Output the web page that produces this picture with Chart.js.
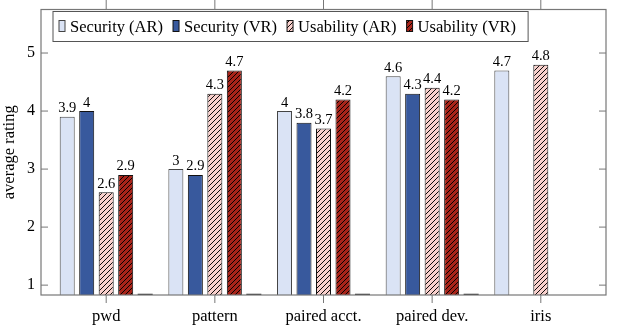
<!DOCTYPE html>
<html>
<head>
<meta charset="utf-8">
<script src="https://cdn.jsdelivr.net/npm/chart.js@4.4.0/dist/chart.umd.min.js"></script>
<style>
  html, body { margin: 0; padding: 0; background: #fff; }
  canvas { display: block; }
</style>
</head>
<body>
<canvas id="c" width="618" height="334"></canvas>
<script>
// ratings per method
var categories = ['pwd', 'pattern', 'paired acct.', 'paired dev.', 'iris'];
var securityAR = [3.9, 3, 4, 4.6, 4.7];
var securityVR = [4, 2.9, 3.8, 4.3, null];
var usabilityAR = [2.6, 4.3, 3.7, 4.4, 4.8];
var usabilityVR = [2.9, 4.7, 4.2, 4.2, null];
var spacer = [0.85, 0.85, 0.85, 0.85, null];
var yTicks = [1, 2, 3, 4, 5];

var serif = '"Liberation Serif", "Times New Roman", "DejaVu Serif", serif';

// diagonal hatch (north east lines) over a base colour
function hatch(bg) {
  var s = 5;
  var c = document.createElement('canvas');
  c.width = s; c.height = s;
  var g = c.getContext('2d');
  g.fillStyle = bg;
  g.fillRect(0, 0, s, s);
  g.strokeStyle = '#000';
  g.lineWidth = 0.95;
  g.beginPath();
  g.moveTo(-1, s + 1); g.lineTo(s + 1, -1);
  g.moveTo(-1, 1); g.lineTo(1, -1);
  g.moveTo(s - 1, s + 1); g.lineTo(s + 1, s - 1);
  g.stroke();
  return g.createPattern(c, 'repeat');
}

function toXY(arr) {
  return arr.map(function(v, i) { return { x: i, y: v }; });
}

function barSet(label, values, fill, border) {
  return {
    label: label,
    data: toXY(values),
    backgroundColor: fill,
    borderColor: border,
    borderWidth: 1,
    categoryPercentage: 0.897,
    barPercentage: 0.77
  };
}

// frame, ticks, value labels and the legend box
var decor = {
  id: 'decor',
  afterDatasetsDraw: function(chart) {
    var ctx = chart.ctx, a = chart.chartArea;
    var xs = chart.scales.x, ys = chart.scales.y;
    ctx.save();

    // values above bars
    ctx.fillStyle = '#000';
    ctx.font = '14.5px ' + serif;
    ctx.textAlign = 'center';
    ctx.textBaseline = 'alphabetic';
    chart.data.datasets.forEach(function(ds, di) {
      if (ds.noValue) return;
      chart.getDatasetMeta(di).data.forEach(function(bar, i) {
        var v = ds.data[i].y;
        if (v == null) return;
        ctx.fillText(String(v), bar.x, bar.y - 4.5);
      });
    });

    // axis frame
    ctx.strokeStyle = '#777';
    ctx.lineWidth = 1.2;
    ctx.strokeRect(a.left, a.top, a.right - a.left, a.bottom - a.top);

    // y ticks inside on both sides
    ctx.beginPath();
    yTicks.forEach(function(v) {
      var y = ys.getPixelForValue(v);
      ctx.moveTo(a.left, y); ctx.lineTo(a.left + 7, y);
      ctx.moveTo(a.right - 7, y); ctx.lineTo(a.right, y);
    });
    // x ticks outside, top and bottom
    categories.forEach(function(c, i) {
      var x = xs.getPixelForValue(i);
      ctx.moveTo(x, a.bottom); ctx.lineTo(x, a.bottom + 8);
      ctx.moveTo(x, a.top - 10); ctx.lineTo(x, a.top);
    });
    ctx.lineWidth = 1;
    ctx.stroke();

    // legend
    ctx.font = '16.5px ' + serif;
    ctx.textAlign = 'left';
    var items = chart.data.datasets.filter(function(ds) { return !ds.noValue; });
    var x = 59, pos = [];
    items.forEach(function(ds) {
      var w = ctx.measureText(ds.label).width;
      pos.push(x);
      x += 11 + w + 10;
    });
    var boxL = 53, boxT = 11.5, boxB = 41.5, boxR = x - 10 + 12;
    ctx.fillStyle = '#fff';
    ctx.fillRect(boxL, boxT, boxR - boxL, boxB - boxT);
    ctx.strokeStyle = '#555';
    ctx.lineWidth = 1;
    ctx.strokeRect(boxL, boxT, boxR - boxL, boxB - boxT);
    items.forEach(function(ds, k) {
      var sx = pos[k];
      ctx.fillStyle = ds.backgroundColor;
      ctx.fillRect(sx, 20.5, 6, 11);
      ctx.strokeStyle = ds.borderColor;
      ctx.strokeRect(sx, 20.5, 6, 11);
      ctx.fillStyle = '#000';
      ctx.fillText(ds.label, sx + 11, 32);
    });

    ctx.restore();
  }
};

function draw() {
  var datasets = [
    barSet('Security (AR)', securityAR, '#dae3f5', '#444'),
    barSet('Security (VR)', securityVR, '#38599d', '#111'),
    barSet('Usability (AR)', usabilityAR, hatch('#f9d0cc'), '#111'),
    barSet('Usability (VR)', usabilityVR, hatch('#a8241a'), '#111'),
    {
      label: '',
      data: toXY(spacer),
      backgroundColor: '#333',
      borderWidth: 0,
      categoryPercentage: 0.897,
      barPercentage: 0.77,
      noValue: true
    }
  ];

  new Chart(document.getElementById('c'), {
    type: 'bar',
    data: { datasets: datasets },
    options: {
      responsive: false,
      animation: false,
      layout: { padding: { top: 9.5, right: 12, left: 0, bottom: 0 } },
      plugins: { legend: { display: false }, tooltip: { enabled: false } },
      scales: {
        x: {
          type: 'linear',
          min: -0.6,
          max: 4.6,
          offset: false,
          grid: { display: false, drawTicks: false },
          border: { display: false },
          afterBuildTicks: function(s) { s.ticks = categories.map(function(c, i) { return { value: i }; }); },
          afterFit: function(s) { s.height = 39; s.paddingLeft = 0; s.paddingRight = 0; },
          ticks: {
            padding: 12,
            color: '#000',
            autoSkip: false,
            maxRotation: 0,
            font: { family: serif, size: 16.5 },
            callback: function(v) { return categories[v]; }
          }
        },
        y: {
          min: 0.83,
          max: 5.75,
          grid: { display: false, drawTicks: false },
          border: { display: false },
          afterBuildTicks: function(s) { s.ticks = yTicks.map(function(v) { return { value: v }; }); },
          afterFit: function(s) { s.width = 41; s.paddingTop = 0; s.paddingBottom = 0; },
          ticks: {
            padding: 6,
            color: '#000',
            font: { family: serif, size: 16 }
          },
          title: {
            display: true,
            text: 'average rating',
            color: '#000',
            font: { family: serif, size: 16.5 },
            padding: { top: 0, bottom: 0 }
          }
        }
      }
    },
    plugins: [decor]
  });
}

if (document.fonts && document.fonts.load) {
  document.fonts.load('16px "Liberation Serif"').then(draw, draw);
} else {
  draw();
}
</script>
</body>
</html>
